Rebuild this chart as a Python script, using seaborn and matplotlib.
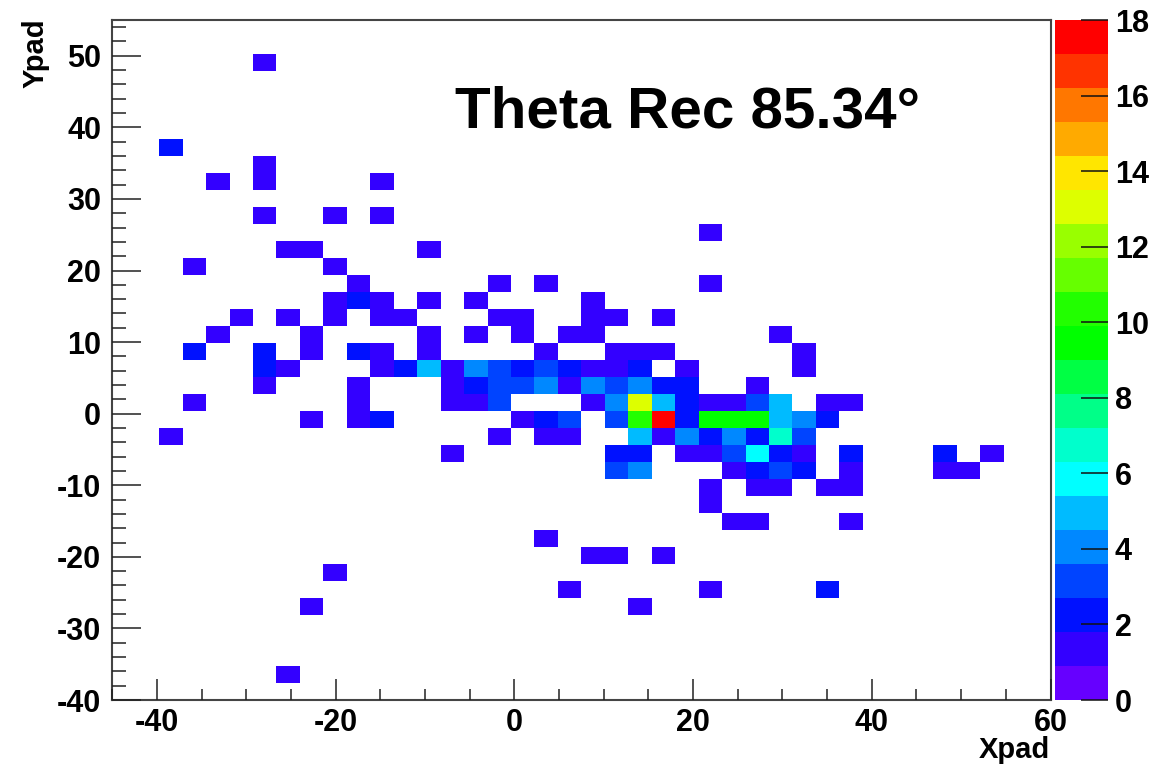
import numpy as np
import matplotlib
matplotlib.use("Agg")
import matplotlib.pyplot as plt
from matplotlib.colors import ListedColormap
from matplotlib.ticker import MultipleLocator, FormatStrFormatter
import seaborn as sns

# Pad plane: 40 x 40 pads
X_RANGE = (-45.0, 60.0)
Y_RANGE = (-40.0, 55.0)
N_BINS = 40
Z_MAX = 18

# Hits per pad row. Rows are counted from the top of the plane (Ypad = 55),
# columns from the left edge (Xpad = -45).
hit_rows = [2, 7, 8, 9, 11, 12, 13, 14, 15, 16, 17, 18, 19, 20, 21, 22, 23,
            24, 25, 26, 27, 28, 29, 30, 31, 32, 33, 34, 38]
hit_cols = [
    [6],
    [2],
    [6],
    [4, 6, 11],
    [6, 9, 11],
    [25],
    [7, 8, 13],
    [3, 9],
    [10, 16, 18, 25],
    [9, 10, 11, 13, 15, 20],
    [5, 7, 9, 11, 12, 16, 17, 20, 21, 23],
    [4, 8, 13, 15, 17, 19, 20, 28],
    [3, 6, 8, 10, 11, 13, 18, 21, 22, 23, 29],
    [6, 7, 11, 12, 13, 14, 15, 16, 17, 18, 19, 20, 21, 22, 24, 29],
    [6, 10, 14, 15, 16, 17, 18, 19, 20, 21, 22, 23, 24, 27],
    [3, 10, 14, 15, 16, 20, 21, 22, 23, 24, 25, 26, 27, 28, 30, 31],
    [8, 10, 11, 17, 18, 19, 21, 22, 23, 24, 25, 26, 27, 28, 29, 30],
    [2, 16, 18, 19, 22, 23, 24, 25, 26, 27, 28, 29],
    [14, 21, 22, 24, 25, 26, 27, 28, 29, 31, 35, 37],
    [21, 22, 26, 27, 28, 29, 31, 35, 36],
    [25, 27, 28, 30, 31],
    [25],
    [26, 27, 31],
    [18],
    [20, 21, 23],
    [9],
    [19, 25, 30],
    [8, 22],
    [7],
]
hit_counts = [
    [1],
    [2],
    [1],
    [1, 1, 1],
    [1, 1, 1],
    [1],
    [1, 1, 1],
    [1, 1],
    [1, 1, 1, 1],
    [1, 2, 1, 1, 1, 1],
    [1, 1, 1, 1, 1, 1, 1, 1, 1, 1],
    [1, 1, 1, 1, 1, 1, 1, 1],
    [2, 2, 1, 2, 1, 1, 1, 1, 1, 1, 1],
    [2, 1, 1, 2, 5, 1, 4, 3, 2, 3, 2, 1, 1, 2, 1, 1],
    [1, 1, 1, 2, 3, 3, 4, 1, 4, 3, 4, 2, 2, 1],
    [1, 1, 1, 1, 3, 1, 4, 13, 5, 2, 1, 1, 3, 5, 1, 1],
    [1, 1, 2, 1, 2, 3, 3, 10, 18, 2, 9, 9, 9, 5, 4, 2],
    [1, 1, 1, 1, 5, 1, 4, 2, 4, 2, 7, 3],
    [1, 2, 2, 1, 1, 3, 6, 2, 1, 2, 2, 1],
    [3, 4, 1, 2, 3, 2, 1, 1, 1],
    [1, 1, 1, 1, 1],
    [1],
    [1, 1, 1],
    [1],
    [1, 1, 1],
    [1],
    [1, 1, 2],
    [1, 1],
    [1],
]

# Colour levels of the z scale (20 contours from 0 to 18)
level_colors = [
    "#6600ff", "#3300ff", "#0011ff", "#0044ff", "#0088ff",
    "#00bbff", "#00ffff", "#00ffcc", "#00ff88", "#00ff44",
    "#00ff00", "#22ff00", "#66ff00", "#99ff00", "#ddff00",
    "#ffe600", "#ffaa00", "#ff7700", "#ff3300", "#ff0000",
]

# Convert pad indices to pad-centre coordinates
dx = (X_RANGE[1] - X_RANGE[0]) / N_BINS
dy = (Y_RANGE[1] - Y_RANGE[0]) / N_BINS
xpad, ypad, hits = [], [], []
for r, cols, counts in zip(hit_rows, hit_cols, hit_counts):
    for c, n in zip(cols, counts):
        xpad.append(X_RANGE[0] + (c + 0.5) * dx)
        ypad.append(Y_RANGE[1] - (r + 0.5) * dy)
        hits.append(n)

sns.set_theme(style="white")
plt.rcParams["font.family"] = ["Liberation Sans", "DejaVu Sans"]
plt.rcParams["font.weight"] = "bold"
plt.rcParams["axes.unicode_minus"] = False
plt.rcParams["text.color"] = "black"
plt.rcParams["xtick.color"] = "black"
plt.rcParams["ytick.color"] = "black"
plt.rcParams["xtick.labelcolor"] = "black"
plt.rcParams["ytick.labelcolor"] = "black"
plt.rcParams["axes.axisbelow"] = False

W, H = 1165, 768
fig = plt.figure(figsize=(W / 100, H / 100), dpi=100)
fig.patch.set_facecolor("white")
ax = fig.add_axes([112.3 / W, 68 / H, 938.2 / W, 680 / H])
cax = fig.add_axes([1055 / W, 68 / H, 53 / W, 680 / H])

cmap = ListedColormap(level_colors)
sns.histplot(
    x=xpad, y=ypad, weights=hits,
    bins=N_BINS, binrange=(X_RANGE, Y_RANGE),
    cmap=cmap, vmin=0, vmax=Z_MAX,
    cbar=True, cbar_ax=cax,
    cbar_kws=dict(ticks=list(range(0, Z_MAX + 1, 2))),
    ax=ax,
)

ax.set_xlim(*X_RANGE)
ax.set_ylim(*Y_RANGE)
ax.set_xlabel("")
ax.set_ylabel("")
ax.set_axisbelow(False)

# Axis ticks, inward, on bottom and left only
ax.xaxis.set_major_locator(MultipleLocator(20))
ax.xaxis.set_minor_locator(MultipleLocator(5))
ax.yaxis.set_major_locator(MultipleLocator(10))
ax.yaxis.set_minor_locator(MultipleLocator(2))
ax.xaxis.set_major_formatter(FormatStrFormatter("%d"))
ax.yaxis.set_major_formatter(FormatStrFormatter("%d"))
ax.tick_params(axis="x", which="major", direction="in", length=15, width=1.1,
               color="#222222", labelcolor="black", labelsize=22, pad=6,
               bottom=True, top=False)
ax.tick_params(axis="x", which="minor", direction="in", length=8, width=1.1,
               color="#222222", bottom=True, top=False)
ax.tick_params(axis="y", which="major", direction="in", length=21, width=1.1,
               color="#222222", labelcolor="black", labelsize=22, pad=8,
               left=True, right=False)
ax.tick_params(axis="y", which="minor", direction="in", length=10, width=1.1,
               color="#222222", left=True, right=False)
for lab in ax.get_xticklabels() + ax.get_yticklabels():
    lab.set_fontweight("bold")
for sp in ax.spines.values():
    sp.set_visible(True)
    sp.set_color("#444444")
    sp.set_linewidth(1.5)

# Colour scale
cb = ax.collections[0].colorbar
cb.outline.set_visible(False)
cax.set_axisbelow(False)
cax.yaxis.set_ticks_position("right")
cax.tick_params(axis="y", which="major", direction="in", length=19.5, width=1.1,
                color="#111111", labelcolor="black", labelsize=22, pad=5)
cax.minorticks_off()
for lab in cax.get_yticklabels():
    lab.set_fontweight("bold")

# Axis titles and label
fig.text(1050 / W, 1 - 750 / H, "Xpad", ha="right", va="center",
         fontsize=21, fontweight="bold", color="black")
fig.text(36 / W, 1 - 18 / H, "Ypad", ha="center", va="top", rotation=90,
         fontsize=21, fontweight="bold", color="black")
fig.text(455 / W, 1 - 128 / H, "Theta Rec 85.34\u00b0", ha="left", va="baseline",
         fontsize=42, fontweight="bold", color="black")

fig.savefig("out.png", dpi=100, facecolor="white")
